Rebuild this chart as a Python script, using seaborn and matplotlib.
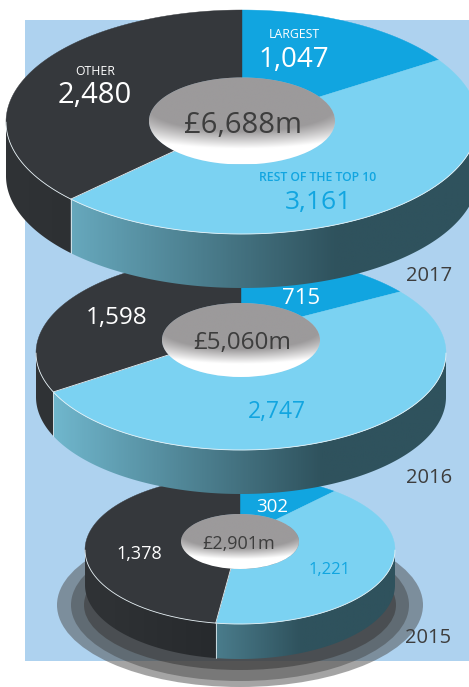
import numpy as np
import matplotlib
matplotlib.use("Agg")
import matplotlib.pyplot as plt
from matplotlib.patches import Ellipse, Polygon, Rectangle
import seaborn as sns

# Annual values (GBP m) per segment
years = ["2017", "2016", "2015"]
largest = [1047, 715, 302]
rest_of_top_10 = [3161, 2747, 1221]
other = [2480, 1598, 1378]
totals = ["£6,688m", "£5,060m", "£2,901m"]

sns.set_theme(style="white")
plt.rcParams["font.family"] = ["Open Sans", "DejaVu Sans"]

W, H = 469, 687
PANEL = "#aed2ef"
LARGEST_C, REST_C, OTHER_C = "#11a5e0", "#7bd2f2", "#35383c"
INK = "#3d3d3d"

# Ring geometry in pixels: outer ellipse, hole ellipse, wall depth
rings = {
    "2017": dict(cx=242, cy=122, rx=236, ry=112, hcy=121, hrx=93, hry=43.5, depth=54),
    "2016": dict(cx=241, cy=353, rx=205, ry=97, hcy=340, hrx=79, hry=37, depth=44),
    "2015": dict(cx=240, cy=550, rx=155, ry=74, hcy=541.5, hrx=59, hry=27.5, depth=35),
}

wall_blue = sns.blend_palette(["#74bdd4", "#2f525d"], as_cmap=True)
wall_dark = sns.blend_palette(["#303336", "#212427"], as_cmap=True)
hole_fade = sns.blend_palette(["#9c9a9b", "#ffffff"], as_cmap=True)

fig = plt.figure(figsize=(W / 100, H / 100), dpi=100, facecolor="white")
ax = fig.add_axes([0, 0, 1, 1])
ax.set_xlim(0, W)
ax.set_ylim(H, 0)
ax.axis("off")
sns.despine(ax=ax, left=True, bottom=True)

ax.add_patch(Rectangle((25, 20), W - 25, 641, fc=PANEL, ec="none", zorder=0))

# Soft layered shadow below the bottom ring
for w, h, col, a in [(366, 164, "#4b4b4b", 0.5), (338, 152, "#3b3b3b", 0.42), (312, 130, "#3c3c3c", 0.6)]:
    ax.add_patch(Ellipse((240, 605), w, h, fc=col, ec="none", alpha=a, zorder=1))


def outer_pts(g, t, dy=0.0):
    return np.c_[g["cx"] + g["rx"] * np.sin(t), g["cy"] - g["ry"] * np.cos(t) + dy]


def hole_pts(g, t):
    return np.c_[g["cx"] + g["hrx"] * np.sin(t), g["hcy"] - g["hry"] * np.cos(t)]


def draw_wall(g, a0, a1, cmap, z):
    lo, hi = max(a0, np.pi / 2), min(a1, 3 * np.pi / 2)
    if hi <= lo:
        return
    t = np.linspace(lo, hi, 160)
    poly = Polygon(np.r_[outer_pts(g, t), outer_pts(g, t[::-1], g["depth"])], closed=True,
                   fc="none", ec="none", zorder=z)
    ax.add_patch(poly)
    left, right = g["cx"] - g["rx"], g["cx"] + g["rx"]
    ramp = np.clip(np.linspace(0, 1, 400) / 0.7, 0, 1)[None, :]
    im = ax.imshow(ramp, cmap=cmap, vmin=0, vmax=1, aspect="auto", zorder=z,
                   extent=(left, right, g["cy"] + g["ry"] + g["depth"] + 2, g["cy"] - 2))
    im.set_clip_path(poly)


def draw_ring(year, values, z):
    g = rings[year]
    fracs = np.cumsum([0] + list(values)) / sum(values) * 2 * np.pi
    colors = [LARGEST_C, REST_C, OTHER_C]
    cmaps = [wall_blue, wall_blue, wall_dark]
    # Side walls first so the top face sits over them
    for i in range(3):
        draw_wall(g, fracs[i], fracs[i + 1], cmaps[i], z)
    # Top-face segments
    for i in range(3):
        t = np.linspace(fracs[i], fracs[i + 1], 200)
        ax.add_patch(Polygon(np.r_[outer_pts(g, t), hole_pts(g, t[::-1])], closed=True,
                             fc=colors[i], ec=colors[i], lw=0.3, zorder=z + 1))
    # Thin highlight along the front rim and at the segment edge
    t = np.linspace(np.pi / 2, 3 * np.pi / 2, 300)
    ax.plot(*outer_pts(g, t).T, color="#e8f2f6", lw=0.6, zorder=z + 2)
    edge = fracs[2]
    ends = np.r_[hole_pts(g, np.array([edge])), outer_pts(g, np.array([edge]))]
    ax.plot(*ends.T, color="#e8f2f6", lw=0.6, zorder=z + 2)
    if np.pi / 2 < edge < 3 * np.pi / 2:
        drop = np.r_[outer_pts(g, np.array([edge])), outer_pts(g, np.array([edge]), g["depth"])]
        ax.plot(*drop.T, color="#dfe9ed", lw=0.6, zorder=z + 2)
    # Hole: grey, fading to a white crescent along its lower rim only
    hole = Ellipse((g["cx"], g["hcy"]), 2 * g["hrx"], 2 * g["hry"], fc="none", ec="none", zorder=z + 2)
    ax.add_patch(hole)
    ny, nx = np.mgrid[-1:1:200j, -1:1:200j]
    fade = np.clip((np.hypot(0.55 * nx, np.maximum(ny + 0.3, 0)) - 0.55) / 0.4, 0, 1)
    im = ax.imshow(fade, cmap=hole_fade, vmin=0, vmax=1, aspect="auto", zorder=z + 2,
                   extent=(g["cx"] - g["hrx"], g["cx"] + g["hrx"], g["hcy"] + g["hry"], g["hcy"] - g["hry"]))
    im.set_clip_path(hole)


# Back ring first, so each larger ring overlaps the one below it
for idx, z in zip([2, 1, 0], [2, 10, 20]):
    draw_ring(years[idx], (largest[idx], rest_of_top_10[idx], other[idx]), z)

ax.set_xlim(0, W)
ax.set_ylim(H, 0)


def label(x, y, s, size, color, zorder=40, **kw):
    # Nudge down a little so the digits sit optically centred on y
    ax.text(x, y + 0.13 * size, s, fontsize=size, color=color, ha="center", va="center", zorder=zorder, **kw)


fmt = "{:,}".format
# 2017
label(294, 33, "LARGEST", 8.8, "white", zorder=30)
label(294, 57, fmt(largest[0]), 20, "white", zorder=30)
label(95, 70, "OTHER", 8.8, "white", zorder=30)
label(95, 93, fmt(other[0]), 21, "white", zorder=30)
label(318, 176, "REST OF THE TOP 10", 8.8, LARGEST_C, zorder=30, fontweight="semibold")
label(318, 200, fmt(rest_of_top_10[0]), 19, LARGEST_C, zorder=30)
label(243, 123, totals[0], 21, INK, zorder=30)
label(429, 274, years[0], 14.5, INK, zorder=30)
# 2016
label(301, 296, fmt(largest[1]), 16, "white", zorder=18)
label(117, 316, fmt(other[1]), 17.5, "white", zorder=18)
label(277, 410, fmt(rest_of_top_10[1]), 16.5, LARGEST_C, zorder=18)
label(242, 341, totals[1], 17.5, INK, zorder=18)
label(429, 476, years[1], 14.5, INK, zorder=30)
# 2015
label(272, 505, fmt(largest[2]), 13.5, "white", zorder=8)
label(139, 552, fmt(other[2]), 13, "white", zorder=8)
label(330, 568, fmt(rest_of_top_10[2]), 12, LARGEST_C, zorder=8)
label(239, 542, totals[2], 13, INK, zorder=8)
label(428, 636, years[2], 14.5, INK, zorder=30)

fig.savefig("out.png", dpi=100, facecolor="white")
